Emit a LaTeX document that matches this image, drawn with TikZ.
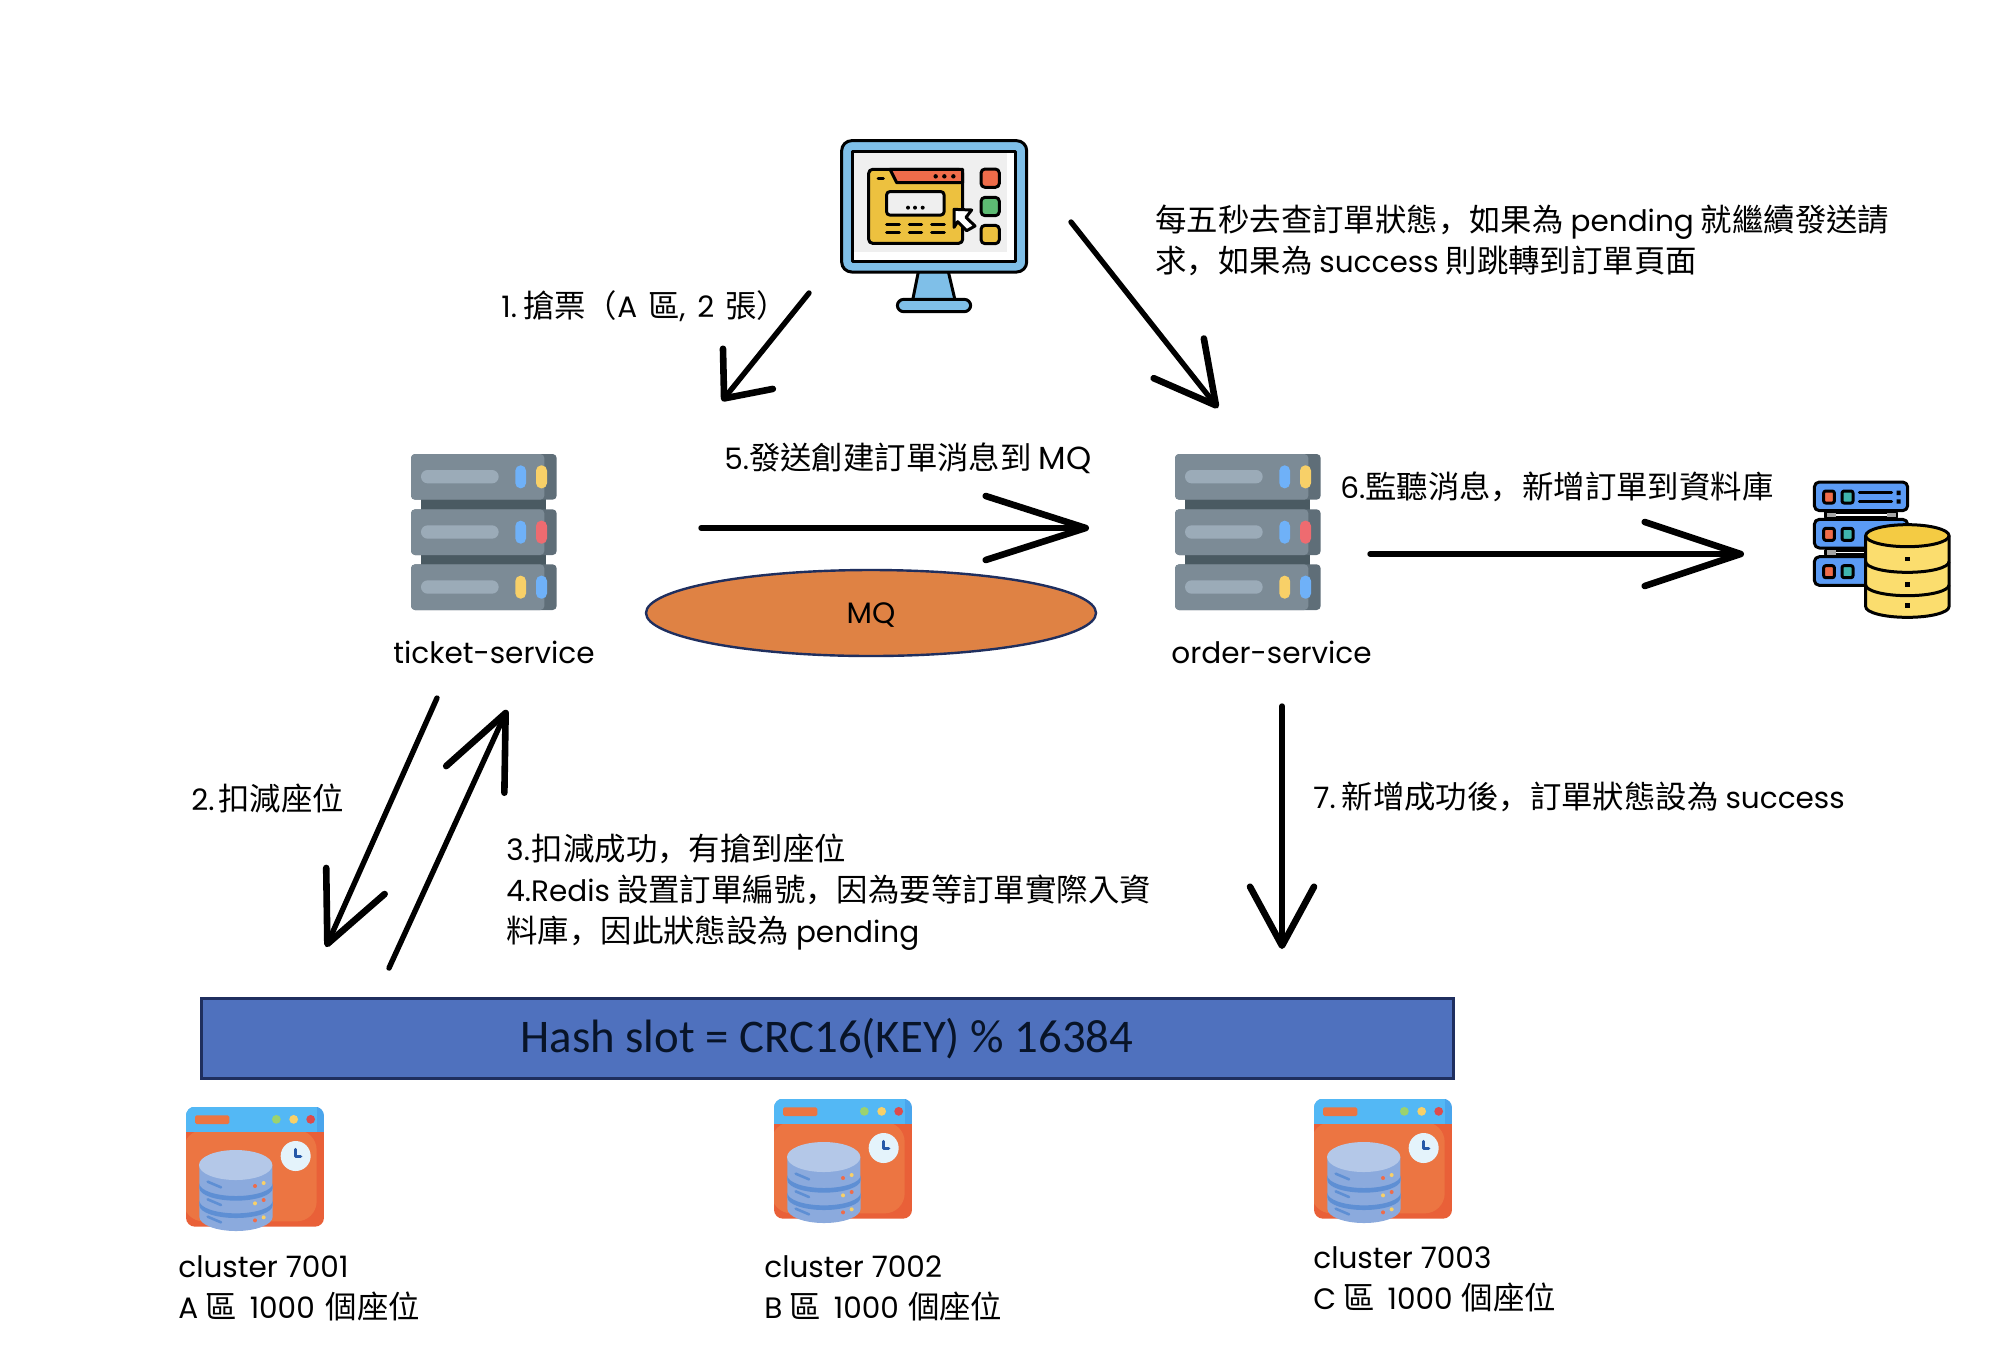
\documentclass[tikz,border=0pt]{standalone}
\usepackage{fontspec}
\setmainfont{Noto Sans CJK TC}
\newfontfamily\hashfont{Carlito}
\newfontfamily\latinfont[Scale=0.94]{Poppins}
\newfontfamily\scfont{Noto Sans CJK SC}
\newcommand{\la}[1]{{\latinfont #1}}
\newcommand{\cm}{{\scfont ，}}
\usetikzlibrary{arrows.meta,shapes.geometric}
\definecolor{mon}{HTML}{7FBFE8}
\definecolor{scr}{HTML}{EFEFEF}
\definecolor{fold}{HTML}{EDC13F}
\definecolor{redt}{HTML}{EF6C4A}
\definecolor{grn}{HTML}{5DBB73}
\definecolor{srv}{HTML}{7C8B96}
\definecolor{srvd}{HTML}{5F6E78}
\definecolor{srvb}{HTML}{4A5A62}
\definecolor{pill}{HTML}{9BABB8}
\definecolor{ledb}{HTML}{6FB1F8}
\definecolor{ledy}{HTML}{F8D068}
\definecolor{ledr}{HTML}{EE6B70}
\definecolor{rack}{HTML}{5B9BF5}
\definecolor{cyl}{HTML}{FBDD6E}
\definecolor{cylt}{HTML}{F4CB43}
\definecolor{winb}{HTML}{53B8F5}
\definecolor{winbd}{HTML}{4AA5EC}
\definecolor{wino}{HTML}{EC7542}
\definecolor{winod}{HTML}{E96038}
\definecolor{dbt}{HTML}{B4C8E8}
\definecolor{dbb}{HTML}{8BAADD}
\definecolor{dbd}{HTML}{5E8FD4}
\definecolor{mqc}{HTML}{DF8244}
\definecolor{navy}{HTML}{1F2F5F}
\definecolor{hashc}{HTML}{4F71BE}
\definecolor{hasht}{HTML}{081428}
\definecolor{dotg}{HTML}{9BD26F}
\definecolor{dotr}{HTML}{DE4B4B}
\definecolor{clk}{HTML}{E4F3FB}
\definecolor{clkh}{HTML}{2558A8}
\definecolor{tealk}{HTML}{3FB5AE}
\tikzset{
  lbl/.style={anchor=west,inner sep=0pt,align=left,font=\fontsize{15.7}{20.5}\selectfont},
  conn/.style={line width=2.7pt,line cap=round,line join=round,-{Straight Barb[length=#1,width=32pt,round,line width=3.3pt]}},
  iconline/.style={draw=black,line width=1.5pt,line join=round},
  bk/.style={line width=1.5pt,line cap=round,draw=black},
}
\newcommand{\iconmonitor}[2]{\begin{scope}[shift={(#1,#2)},x=0.16667pt,y=-0.16667pt]
  \draw[iconline,fill=mon] (295,455)--(278,540)--(405,540)--(385,455)--cycle;
  \draw[iconline,fill=mon,rounded corners=3.2pt] (232,538) rectangle (452,575);
  \draw[iconline,fill=mon,rounded corners=5pt] (65,62) rectangle (620,456);
  \fill[white] (98,95) rectangle (586,423);
  \fill[scr] (98,95) rectangle (560,395);
  \draw[iconline] (98,95) rectangle (586,423);
  \draw[iconline,fill=fold,rounded corners=2pt] (146,148) rectangle (428,370);
  \draw[iconline,fill=redt] (210,148)--(230,188)--(428,188)--(428,148)--cycle;
  \foreach \xx in {347,373,400} \fill (\xx,169) circle (1.1pt);
  \draw[bk] (174,176)--(190,176);
  \draw[iconline,fill=scr,rounded corners=1.5pt] (200,215) rectangle (372,285);
  \foreach \xx in {264,285,308} \fill (\xx,263) circle (1pt);
  \foreach \yy in {313,338} \foreach \xa/\xb in {200/238,268/305,335/373} \draw[bk] (\xa,\yy)--(\xb,\yy);
  \draw[iconline,fill=redt,rounded corners=2pt] (483,147) rectangle (538,202);
  \draw[iconline,fill=grn,rounded corners=2pt] (483,232) rectangle (538,287);
  \draw[iconline,fill=fold,rounded corners=2pt] (483,316) rectangle (538,371);
  \draw[iconline,fill=white] (402,268)--(455,270)--(438,292)--(465,318)--(440,332)--(413,305)--(402,322)--cycle;
\end{scope}}
\newcommand{\iconserver}[8]{\begin{scope}[shift={(#1,#2)},x=0.16667pt,y=-0.16667pt]
  \fill[srvb] (64,170) rectangle (438,380);
  \foreach \yt/\ca/\cb in {42/#3/#4,208/#5/#6,373/#7/#8}{
    \fill[srvd,rounded corners=2pt] (33,\yt) rectangle (470,\yt+137);
    \fill[srv,rounded corners=2pt] (33,\yt) rectangle (433,\yt+137);
    \fill[pill,rounded corners=3.3pt] (63,\yt+48) rectangle (296,\yt+88);
    \fill[\ca,rounded corners=2.6pt] (346,\yt+34) rectangle (378,\yt+103);
    \fill[\cb,rounded corners=2.6pt] (408,\yt+34) rectangle (441,\yt+103);
  }
\end{scope}}
\newcommand{\icondb}[2]{\begin{scope}[shift={(#1,#2)},x=0.16667pt,y=-0.16667pt]
  \foreach \yy in {128,240}{
    \draw[iconline,fill=white] (75,\yy) rectangle (290,\yy+14);
    \fill[gray!70] (80,\yy) rectangle (108,\yy+14);
    \fill[gray!70] (260,\yy) rectangle (288,\yy+14);
  }
  \foreach \yt in {36,148,260}{
    \draw[iconline,fill=rack,rounded corners=2.5pt] (43,\yt) rectangle (323,\yt+86);
    \draw[iconline,fill=redt,rounded corners=1pt] (71,\yt+27) rectangle (103,\yt+63);
    \draw[iconline,fill=tealk,rounded corners=1pt] (126,\yt+27) rectangle (159,\yt+63);
  }
  \draw[bk] (178,68)--(275,68) (178,95)--(275,95);
  \fill (290,62) rectangle (302,75) (290,88) rectangle (302,101);
  \draw[iconline,fill=cyl] (197,197)--(197,410) arc[start angle=180,end angle=0,x radius=125,y radius=32]--(447,197)--cycle;
  \draw[iconline] (197,275) arc[start angle=180,end angle=0,x radius=125,y radius=32];
  \draw[iconline] (197,345) arc[start angle=180,end angle=0,x radius=125,y radius=32];
  \draw[iconline,fill=cylt] (322,197) ellipse [x radius=125,y radius=33];
  \foreach \yy in {267,343,406} \fill (314,\yy-7) rectangle (330,\yy+7);
\end{scope}}
\newcommand{\iconcluster}[2]{\begin{scope}[shift={(#1,#2)},x=0.16667pt,y=-0.16667pt]
  \begin{scope}
    \clip[rounded corners=4.5pt] (48,20) rectangle (462,380);
    \fill[winod] (48,97) rectangle (462,380);
    \fill[wino,rounded corners=10pt] (40,90) rectangle (440,364);
    \fill[winbd] (48,20) rectangle (462,97);
    \fill[winb] (48,20) rectangle (440,97);
  \end{scope}
  \fill[wino,rounded corners=0.8pt] (75,46) rectangle (178,72);
  \fill[dotg] (319,58) circle (2.2pt);
  \fill[ledy] (371,58) circle (2.2pt);
  \fill[dotr] (422,58) circle (2.2pt);
  \fill[clk] (377,168) circle (7.5pt);
  \draw[line width=1.6pt,draw=clkh,line cap=round,line join=round] (376,148)--(376,170)--(392,170);
  \fill[dbb] (88,195) -- (88,350) arc[start angle=180,end angle=0,x radius=110,y radius=43] -- (307,195) -- cycle;
  \foreach \yy in {250,302}{
    \fill[dbd] (88,\yy) arc[start angle=180,end angle=0,x radius=110,y radius=38] -- ++(0,14) arc[start angle=0,end angle=180,x radius=110,y radius=38] -- cycle;
  }
  \fill[dbt] (197,195) ellipse [x radius=110,y radius=45];
  \foreach \yy in {245,298,350} \draw[line width=1.3pt,draw=dbd,line cap=round] (113,\yy)--(153,\yy+17);
  \foreach \xx/\yy/\cc in {255/258/redt,281/249/ledy,255/310/ledy,281/300/redt,255/361/redt,281/352/ledy} \fill[\cc] (\xx,\yy) circle (1pt);
\end{scope}}
\begin{document}
\begin{tikzpicture}[x=0.5pt,y=-0.5pt]
\useasboundingbox (0,0) rectangle (2006,1350);
\fill[white] (0,0) rectangle (2006,1350);
% icons
\iconmonitor{820}{120}
\iconserver{400}{440}{ledb}{ledy}{ledb}{ledr}{ledy}{ledb}
\iconserver{1164}{440}{ledb}{ledy}{ledb}{ledr}{ledy}{ledb}
\icondb{1800}{470}
\iconcluster{170}{1100}
\iconcluster{758}{1092}
\iconcluster{1298}{1092}
% labels
\node[lbl] (poll) at (1155,240) {每五秒去查訂單狀態\cm 如果為 \la{pending} 就繼續發送請\\求\cm 如果為 \la{success} 則跳轉到訂單頁面};
\node[lbl] (grab) at (501,306) {\la{1.}\hspace{3pt}搶票（\la{A}\hspace{2pt} 區\la{,\hspace{2pt} 2}\hspace{2pt} 張）};
\node[lbl] (send) at (724,458) {\la{5.}發送創建訂單消息到 {\fontsize{17}{20}\selectfont\la{MQ}}};
\node[lbl] (listen) at (1340,487) {\la{6.}監聽消息\cm 新增訂單到資料庫};
\node[lbl] (ticket) at (393,652) {\la{ticket-service}};
\node[lbl] (order) at (1171,652) {\la{order-service}};
\node[lbl] (deduct) at (191,798) {\la{2.}\hspace{2pt}扣減座位};
\node[lbl] (redis) at (506,892) {\la{3.}\hspace{1pt}扣減成功\cm 有搶到座位\\\la{4.Redis} 設置訂單編號\cm 因為要等訂單實際入資\\料庫\cm 因此狀態設為 \la{pending}};
\node[lbl] (added) at (1313,797) {\la{7.}\hspace{3pt}新增成功後\cm 訂單狀態設為 \la{success}};
\node[draw=navy,line width=1.2pt,fill=mqc,ellipse,minimum width=225pt,minimum height=43pt,inner sep=0pt,font=\fontsize{15.7}{18}\selectfont] (mq) at (871,613) {\raisebox{-5.2pt}[0pt][0pt]{\la{MQ}}};
\node[draw=navy,line width=1.5pt,fill=hashc,minimum width=626pt,minimum height=40pt,inner sep=0pt,text=hasht,font=\hashfont\fontsize{23.4}{26}\selectfont] (hash) at (827,1038) {\raisebox{-7.4pt}[0pt][0pt]{Hash slot = CRC16(KEY) \% 16384}};
\node[lbl] (c1) at (178,1288) {\la{cluster 7001}\\\la{A} 區\hspace{3pt} \la{1000}\hspace{2pt} 個座位};
\node[lbl] (c2) at (764,1288) {\la{cluster 7002}\\\la{B} 區\hspace{3pt} \la{1000}\hspace{1pt} 個座位};
\node[lbl] (c3) at (1313,1279) {\la{cluster 7003}\\\la{C} 區\hspace{3pt} \la{1000}\hspace{1pt} 個座位};
% connector ends
\coordinate (a1s) at (809,293); \coordinate (a1e) at (722,401);
\coordinate (a2s) at (1071,222); \coordinate (a2e) at (1218,408);
\coordinate (a3s) at (701,528); \coordinate (a3e) at (1089,528);
\coordinate (a4s) at (1370,554); \coordinate (a4e) at (1744,554);
\coordinate (a5s) at (1282,706); \coordinate (a5e) at (1282,949);
\coordinate (a6s) at (437,698); \coordinate (a6e) at (326,947);
\coordinate (a7s) at (389,968); \coordinate (a7e) at (507,710);
\draw[conn=19pt] (a1s) -- (a1e);
\draw[conn=30pt] (a2s) -- (a2e);
\draw[conn=50pt] (a3s) -- (a3e);
\draw[conn=48pt] (a4s) -- (a4e);
\draw[conn=29.5pt] (a5s) -- (a5e);
\draw[conn=34.5pt] (a6s) -- (a6e);
\draw[conn=36.5pt] (a7s) -- (a7e);
\end{tikzpicture}
\end{document}
